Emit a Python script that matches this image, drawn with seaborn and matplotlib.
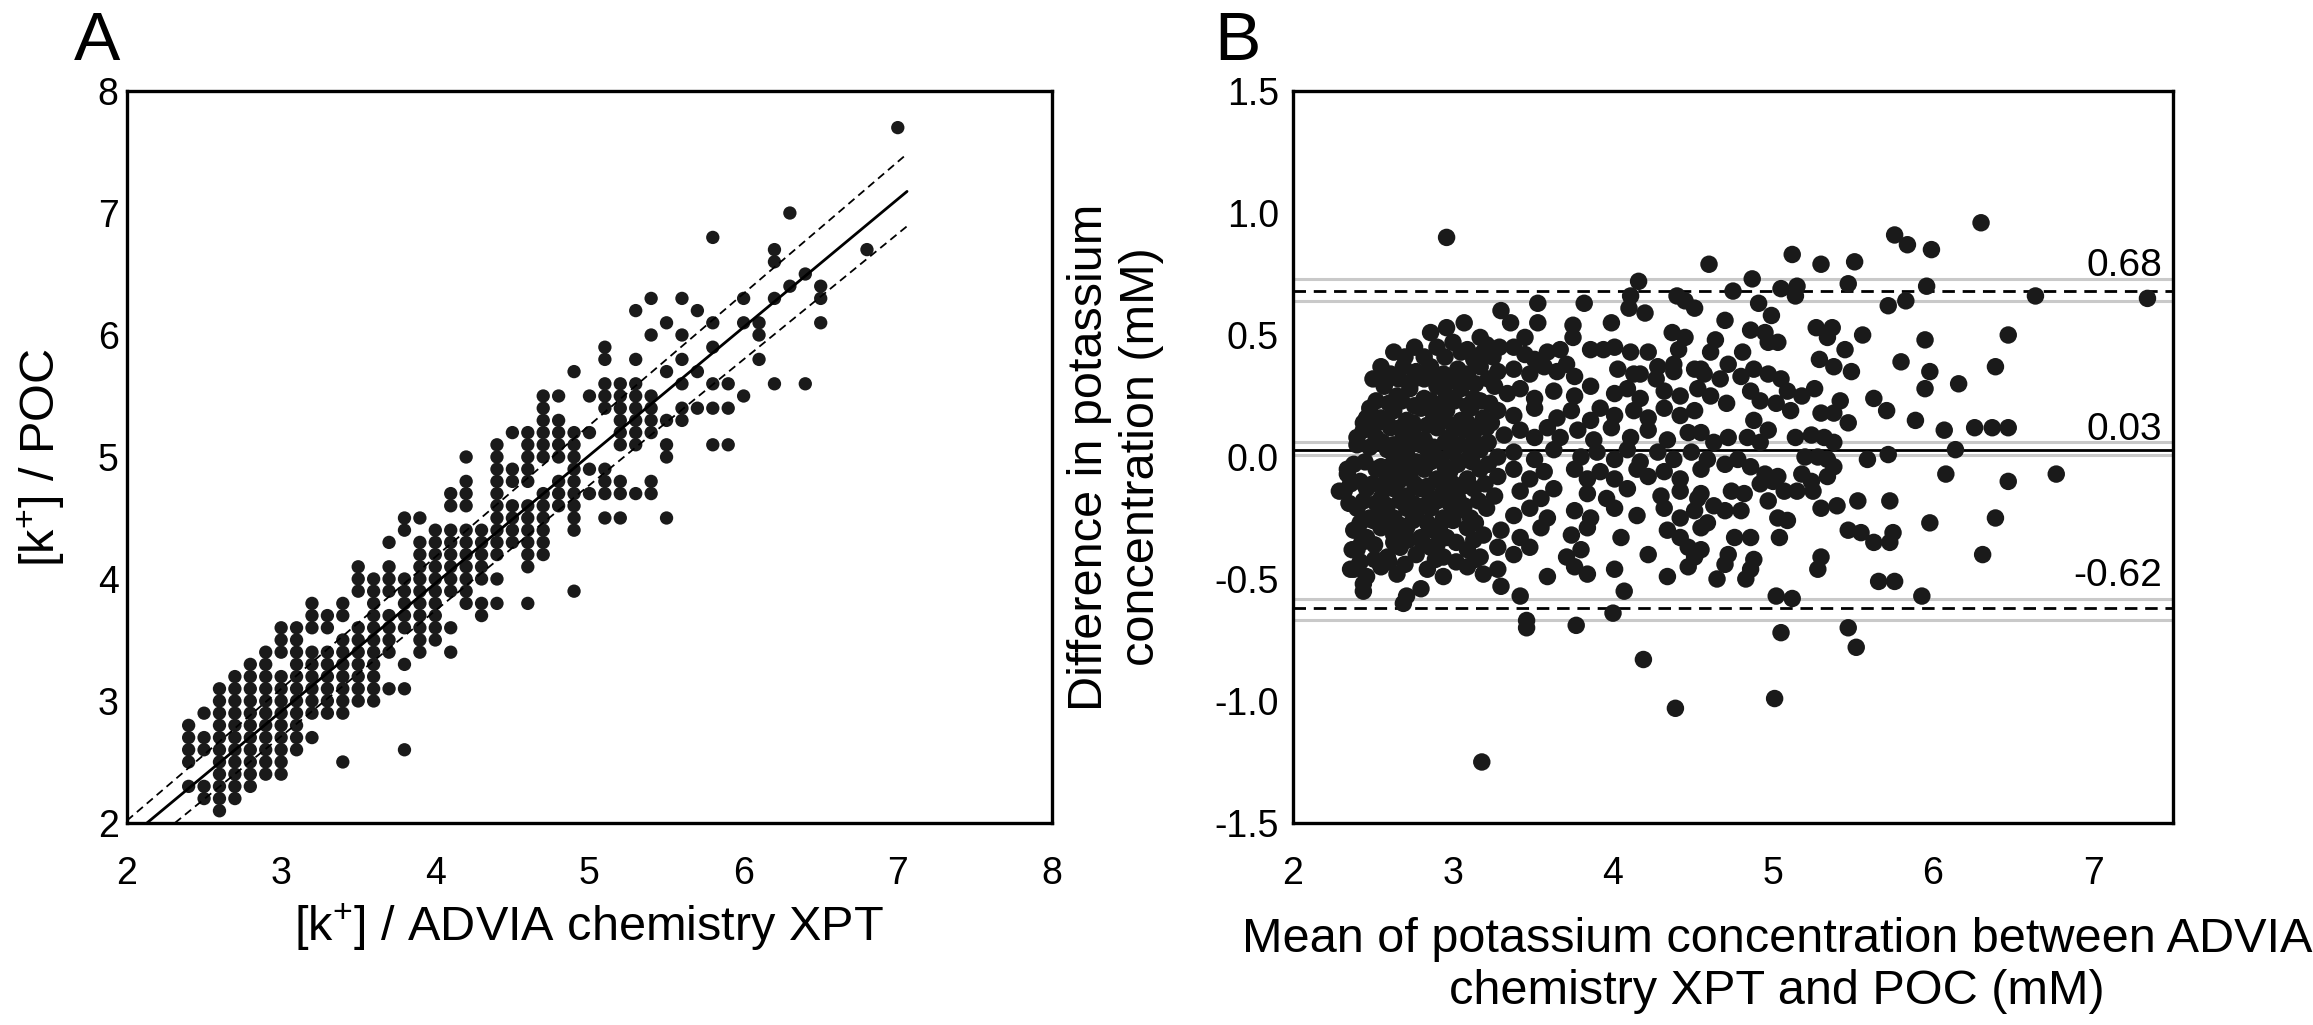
import numpy as np
import pandas as pd
import matplotlib
matplotlib.use("Agg")
import matplotlib.pyplot as plt
import matplotlib.transforms as mtransforms
from matplotlib.ticker import FormatStrFormatter
import seaborn as sns

# ---------------- panel A : POC vs ADVIA (values read on the 0.1 mM grid) ----------------
# ADVIA value -> list of POC values found in that column
A_COLUMNS = {
    2.4: [2.3, 2.5, 2.6, 2.7, 2.8],
    2.5: [2.2, 2.3, 2.6, 2.7, 2.9],
    2.6: [2.1, 2.2, 2.3, 2.4, 2.5, 2.6, 2.7, 2.8, 2.9, 3.0, 3.1],
    2.7: [2.2, 2.3, 2.4, 2.5, 2.6, 2.7, 2.8, 2.9, 3.0, 3.1, 3.2],
    2.8: [2.3, 2.4, 2.5, 2.6, 2.7, 2.8, 2.9, 3.0, 3.1, 3.2, 3.3],
    2.9: [2.4, 2.5, 2.6, 2.7, 2.8, 2.9, 3.0, 3.1, 3.2, 3.3, 3.4],
    3.0: [2.4, 2.5, 2.6, 2.7, 2.8, 2.9, 3.0, 3.1, 3.2, 3.4, 3.5, 3.6],
    3.1: [2.6, 2.7, 2.8, 2.9, 3.0, 3.1, 3.2, 3.3, 3.4, 3.5, 3.6],
    3.2: [2.7, 2.9, 3.0, 3.1, 3.2, 3.3, 3.4, 3.6, 3.7, 3.8],
    3.3: [2.9, 3.0, 3.1, 3.2, 3.3, 3.4, 3.6, 3.7],
    3.4: [2.5, 2.9, 3.0, 3.1, 3.2, 3.3, 3.4, 3.5, 3.7, 3.8],
    3.5: [3.0, 3.1, 3.2, 3.3, 3.4, 3.5, 3.6, 3.9, 4.0, 4.1],
    3.6: [3.0, 3.1, 3.2, 3.3, 3.4, 3.5, 3.6, 3.7, 3.8, 3.9, 4.0],
    3.7: [3.1, 3.4, 3.5, 3.6, 3.7, 3.9, 4.0, 4.1, 4.3],
    3.8: [2.6, 3.1, 3.3, 3.6, 3.7, 3.8, 3.9, 4.0, 4.4, 4.5],
    3.9: [3.4, 3.5, 3.6, 3.7, 3.8, 3.9, 4.0, 4.1, 4.2, 4.3, 4.5],
    4.0: [3.5, 3.6, 3.7, 3.8, 3.9, 4.0, 4.1, 4.2, 4.3, 4.4],
    4.1: [3.4, 3.6, 3.9, 4.0, 4.1, 4.2, 4.3, 4.4, 4.6, 4.7],
    4.2: [3.8, 3.9, 4.0, 4.1, 4.2, 4.3, 4.4, 4.6, 4.7, 4.8, 5.0],
    4.3: [3.7, 3.8, 4.0, 4.1, 4.2, 4.3, 4.4],
    4.4: [3.8, 4.0, 4.2, 4.3, 4.4, 4.5, 4.6, 4.7, 4.8, 4.9, 5.0, 5.1],
    4.5: [4.3, 4.4, 4.5, 4.6, 4.8, 4.9, 5.2],
    4.6: [3.8, 4.1, 4.2, 4.3, 4.4, 4.5, 4.6, 4.8, 4.9, 5.0, 5.1, 5.2],
    4.7: [4.2, 4.3, 4.4, 4.5, 4.6, 4.7, 5.0, 5.1, 5.2, 5.3, 5.4, 5.5],
    4.8: [4.6, 4.7, 4.8, 5.0, 5.1, 5.2, 5.3, 5.5],
    4.9: [3.9, 4.4, 4.5, 4.6, 4.7, 4.8, 4.9, 5.0, 5.1, 5.2, 5.7],
    5.0: [4.7, 4.9, 5.2, 5.5],
    5.1: [4.5, 4.7, 4.8, 4.9, 5.4, 5.5, 5.6, 5.8, 5.9],
    5.2: [4.5, 4.7, 4.8, 5.1, 5.2, 5.3, 5.4, 5.5, 5.6],
    5.3: [4.7, 5.1, 5.2, 5.3, 5.4, 5.5, 5.6, 5.8, 6.2],
    5.4: [4.7, 4.8, 5.2, 5.3, 5.4, 5.5, 6.0, 6.3],
    5.5: [4.5, 5.0, 5.1, 5.3, 5.7, 6.1],
    5.6: [5.3, 5.4, 5.6, 5.8, 6.0, 6.3],
    5.7: [5.4, 5.7, 6.2],
    5.8: [5.1, 5.4, 5.6, 5.9, 6.1, 6.8],
    5.9: [5.1, 5.4, 5.6],
    6.0: [5.5, 6.1, 6.3],
    6.1: [5.8, 6.0, 6.1],
    6.2: [5.6, 6.3, 6.6, 6.7],
    6.3: [6.4, 7.0],
    6.4: [5.6, 6.5],
    6.5: [6.1, 6.3, 6.4],
    6.8: [6.7],
    7.0: [7.7],
}

# regression line and its dashed band (intercept, slope), drawn up to x = 7.06
FIT_LINE = (-0.236, 1.05)
FIT_UPPER = (-0.14, 1.08)
FIT_LOWER = (-0.38, 1.03)
FIT_X_END = 7.06

# ---------------- panel B : Bland-Altman (mean, difference) ----------------
B_POINTS = [
    # upper / sparse points
    (2.96, 0.90), (4.16, 0.72), (4.11, 0.66), (4.10, 0.61), (4.20, 0.59), (4.40, 0.66),
    (4.45, 0.64), (4.51, 0.61), (3.53, 0.63), (3.53, 0.55), (3.82, 0.63), (3.99, 0.55),
    (3.30, 0.60), (3.36, 0.55), (3.45, 0.49), (3.75, 0.54), (3.75, 0.49), (4.37, 0.51),
    (4.45, 0.49), (4.41, 0.44), (4.38, 0.38), (2.86, 0.51), (2.96, 0.53), (3.07, 0.55),
    (3.17, 0.49), (3.21, 0.46), (2.63, 0.43), (2.82, 0.41), (2.90, 0.45), (3.00, 0.47),
    (3.09, 0.44), (3.19, 0.43), (3.29, 0.45), (3.38, 0.45), (3.51, 0.40), (3.59, 0.43),
    (3.67, 0.44), (3.71, 0.38), (3.76, 0.33), (3.86, 0.44), (3.94, 0.44), (4.01, 0.45),
    (4.11, 0.43), (4.22, 0.43), (4.27, 0.32), (4.17, 0.34), (4.55, 0.36),
    # dense left cluster, row by row
    (2.55, 0.37), (2.61, 0.34), (2.69, 0.37), (2.77, 0.35), (2.86, 0.37), (2.94, 0.34),
    (3.03, 0.36), (3.09, 0.34), (3.17, 0.37), (3.28, 0.35), (3.38, 0.36), (3.48, 0.34),
    (3.57, 0.37), (3.65, 0.35), (4.03, 0.36), (4.13, 0.34), (4.28, 0.37), (4.38, 0.35),
    (4.51, 0.36),
    (2.57, 0.29), (2.65, 0.25), (2.73, 0.28), (2.82, 0.24), (2.90, 0.29), (2.96, 0.25),
    (3.05, 0.28), (3.13, 0.24), (3.26, 0.29), (3.34, 0.26), (3.42, 0.28), (3.51, 0.24),
    (3.63, 0.27), (3.76, 0.25), (3.86, 0.29), (4.01, 0.26), (4.09, 0.28), (4.17, 0.24),
    (4.32, 0.27), (4.42, 0.25), (4.53, 0.28),
    (2.48, 0.20), (2.55, 0.16), (2.63, 0.19), (2.71, 0.15), (2.80, 0.20), (2.88, 0.17),
    (2.96, 0.19), (3.05, 0.15), (3.11, 0.20), (3.19, 0.16), (3.28, 0.19), (3.38, 0.17),
    (3.51, 0.20), (3.65, 0.16), (3.74, 0.19), (3.86, 0.15), (3.92, 0.20), (4.01, 0.17),
    (4.13, 0.19), (4.22, 0.16), (4.32, 0.20), (4.42, 0.17), (4.51, 0.19),
    (2.44, 0.11), (2.52, 0.08), (2.61, 0.12), (2.69, 0.09), (2.75, 0.11), (2.82, 0.07),
    (2.90, 0.12), (2.98, 0.08), (3.07, 0.11), (3.13, 0.07), (3.21, 0.12), (3.32, 0.09),
    (3.42, 0.11), (3.51, 0.08), (3.59, 0.12), (3.67, 0.08), (3.78, 0.11), (3.88, 0.07),
    (3.99, 0.12), (4.11, 0.08), (4.22, 0.11), (4.34, 0.07), (4.47, 0.10),
    (2.59, 0.03), (2.65, -0.01), (2.71, 0.02), (2.77, -0.02), (2.84, 0.03), (2.92, -0.01),
    (3.00, 0.02), (3.09, -0.01), (3.17, 0.03), (3.28, 0.00), (3.38, 0.02), (3.51, -0.01),
    (3.63, 0.03), (3.80, 0.00), (3.90, 0.02), (4.01, -0.01), (4.09, 0.03), (4.17, -0.02),
    (4.28, 0.02), (4.38, -0.01), (4.49, 0.02),
    (2.34, -0.07), (2.52, -0.05), (2.59, -0.09), (2.65, -0.05), (2.73, -0.08), (2.82, -0.05),
    (2.90, -0.09), (2.98, -0.06), (3.09, -0.09), (3.17, -0.05), (3.28, -0.08), (3.38, -0.05),
    (3.48, -0.09), (3.57, -0.06), (3.76, -0.05), (3.84, -0.09), (3.92, -0.06), (4.01, -0.09),
    (4.15, -0.05), (4.22, -0.08), (4.32, -0.06), (4.42, -0.09), (4.55, -0.05),
    (2.32, -0.14), (2.46, -0.13), (2.55, -0.17), (2.63, -0.13), (2.71, -0.16), (2.80, -0.13),
    (2.86, -0.17), (2.94, -0.14), (3.03, -0.17), (3.13, -0.13), (3.26, -0.16), (3.42, -0.14),
    (3.55, -0.17), (3.63, -0.13), (3.84, -0.15), (3.96, -0.17), (4.09, -0.13), (4.30, -0.16),
    (4.42, -0.14), (4.53, -0.17),
    (2.40, -0.21), (2.48, -0.25), (2.55, -0.22), (2.63, -0.25), (2.71, -0.21), (2.77, -0.24),
    (2.86, -0.21), (2.94, -0.25), (3.03, -0.22), (3.11, -0.25), (3.21, -0.21), (3.38, -0.24),
    (3.48, -0.21), (3.59, -0.25), (3.76, -0.22), (3.86, -0.25), (4.01, -0.21), (4.15, -0.24),
    (4.32, -0.21), (4.42, -0.25), (4.51, -0.22),
    (2.38, -0.30), (2.46, -0.33), (2.55, -0.29), (2.63, -0.32), (2.71, -0.29), (2.80, -0.33),
    (2.88, -0.30), (2.96, -0.33), (3.09, -0.29), (3.19, -0.32), (3.30, -0.30), (3.42, -0.33),
    (3.55, -0.29), (3.74, -0.32), (3.84, -0.29), (4.05, -0.33), (4.34, -0.30), (4.42, -0.33),
    (4.55, -0.29),
    (2.40, -0.38), (2.59, -0.41), (2.67, -0.37), (2.77, -0.40), (2.86, -0.37), (2.94, -0.41),
    (3.09, -0.38), (3.17, -0.41), (3.28, -0.37), (3.38, -0.40), (3.48, -0.37), (3.71, -0.41),
    (3.80, -0.38), (4.22, -0.40), (4.47, -0.37), (4.51, -0.41),
    (2.38, -0.46), (2.46, -0.49), (2.55, -0.45), (2.65, -0.48), (2.84, -0.46), (2.94, -0.49),
    (3.09, -0.45), (3.19, -0.48), (3.28, -0.46), (3.59, -0.49), (3.76, -0.45), (3.84, -0.48),
    (4.01, -0.46), (4.34, -0.49), (4.47, -0.45),
    (2.44, -0.55), (2.71, -0.57), (2.80, -0.54), (3.30, -0.53), (3.42, -0.57), (4.07, -0.55),
    (2.40, 0.08), (2.46, 0.16), (2.57, 0.33), (2.29, -0.14), (2.34, -0.05), (2.37, -0.38),
    (2.36, -0.46), (2.44, -0.52), (2.69, -0.60),
    # in-between points of the darkest part (x 2.4 - 3.3)
    (2.50, 0.32), (2.58, 0.31), (2.66, 0.32), (2.74, 0.31), (2.82, 0.32), (2.90, 0.33),
    (2.98, 0.31), (3.06, 0.32), (3.14, 0.30), (3.22, 0.32),
    (2.52, 0.23), (2.60, 0.22), (2.68, 0.23), (2.76, 0.21), (2.86, 0.23), (2.93, 0.22),
    (3.01, 0.23), (3.09, 0.21), (3.17, 0.23), (3.23, 0.22),
    (2.44, 0.14), (2.51, 0.13), (2.59, 0.14), (2.67, 0.12), (2.75, 0.14), (2.84, 0.13),
    (2.92, 0.15), (3.00, 0.13), (3.09, 0.14), (3.16, 0.12), (3.24, 0.14),
    (2.40, 0.05), (2.48, 0.04), (2.56, 0.06), (2.63, 0.05), (2.68, 0.04), (2.74, 0.06),
    (2.80, 0.05), (2.88, 0.04), (2.95, 0.06), (3.04, 0.05), (3.12, 0.04), (3.22, 0.06),
    (2.38, -0.03), (2.45, -0.02), (2.55, -0.04), (2.62, -0.03), (2.69, -0.02), (2.75, -0.04),
    (2.80, -0.03), (2.86, -0.02), (2.95, -0.04), (3.03, -0.03), (3.12, -0.02), (3.22, -0.03),
    (2.36, -0.11), (2.42, -0.10), (2.50, -0.11), (2.57, -0.12), (2.66, -0.10), (2.76, -0.11),
    (2.84, -0.12), (2.93, -0.10), (3.00, -0.11), (3.06, -0.12), (3.20, -0.11),
    (2.35, -0.19), (2.44, -0.18), (2.52, -0.19), (2.59, -0.20), (2.67, -0.18), (2.75, -0.19),
    (2.82, -0.20), (2.90, -0.18), (2.98, -0.19), (3.07, -0.20), (3.16, -0.18),
    (2.42, -0.27), (2.50, -0.26), (2.58, -0.27), (2.67, -0.28), (2.75, -0.26), (2.84, -0.27),
    (2.92, -0.28), (3.00, -0.26), (3.14, -0.27),
    (2.43, -0.35), (2.51, -0.36), (2.63, -0.35), (2.72, -0.34), (2.81, -0.35), (2.90, -0.36),
    (3.02, -0.35), (3.13, -0.34),
    (2.42, -0.43), (2.51, -0.42), (2.60, -0.43), (2.70, -0.44), (2.89, -0.42), (3.02, -0.43),
    (3.14, -0.42),
    (2.70, 0.41), (2.76, 0.45), (2.95, 0.41), (3.05, 0.43), (3.13, 0.40), (3.25, 0.41),
    (3.45, 0.42),
    # below the lower limit
    (3.18, -1.25), (4.39, -1.03), (5.01, -0.99), (4.19, -0.83), (3.77, -0.69), (3.46, -0.70),
    (3.46, -0.67), (4.00, -0.64),
    # right half
    (6.30, 0.96), (5.76, 0.91), (5.84, 0.87), (5.99, 0.85), (5.12, 0.83), (5.30, 0.79),
    (5.51, 0.80), (4.60, 0.79), (4.87, 0.73), (4.75, 0.68), (5.05, 0.69), (5.15, 0.70),
    (5.14, 0.66), (5.47, 0.71), (5.96, 0.70), (5.83, 0.64), (5.72, 0.62), (6.64, 0.66),
    (7.34, 0.65), (4.91, 0.63), (4.99, 0.58), (4.70, 0.56), (5.27, 0.53), (5.37, 0.53),
    (5.34, 0.49), (5.56, 0.50), (5.95, 0.48), (6.47, 0.50), (4.86, 0.52), (4.95, 0.51),
    (4.97, 0.47), (5.03, 0.47), (4.64, 0.48), (4.61, 0.43), (4.81, 0.43), (4.72, 0.38),
    (5.29, 0.40), (5.38, 0.37), (5.45, 0.44), (5.49, 0.35), (5.80, 0.39), (5.98, 0.35),
    (5.95, 0.28), (6.16, 0.30), (6.39, 0.37), (4.57, 0.34), (4.67, 0.32), (4.80, 0.33),
    (4.88, 0.36), (4.97, 0.34), (5.05, 0.32), (5.09, 0.27), (4.86, 0.27), (4.92, 0.23),
    (4.71, 0.22), (4.61, 0.25), (5.02, 0.22), (5.11, 0.19), (5.18, 0.25), (5.26, 0.28),
    (5.42, 0.23), (5.38, 0.18), (5.30, 0.18), (5.47, 0.14), (5.63, 0.24), (5.71, 0.19),
    (5.89, 0.15), (6.07, 0.11), (6.26, 0.12), (6.37, 0.12), (6.47, 0.12), (6.14, 0.03),
    (5.59, -0.01), (5.72, 0.01), (4.88, 0.15), (4.97, 0.11), (4.84, 0.08), (4.92, 0.06),
    (4.55, 0.10), (4.63, 0.06), (4.72, 0.08), (5.14, 0.08), (5.24, 0.09), (5.32, 0.08),
    (5.38, 0.06), (4.59, -0.01), (4.70, -0.03), (4.78, -0.01), (4.86, -0.04), (4.95, -0.07),
    (5.03, -0.08), (5.20, 0.00), (5.28, 0.00), (5.34, -0.01), (5.18, -0.07), (5.24, -0.10),
    (5.34, -0.08), (5.38, -0.04), (6.08, -0.07), (6.47, -0.10), (6.77, -0.07), (4.55, -0.15),
    (4.63, -0.20), (4.74, -0.14), (4.82, -0.15), (4.92, -0.11), (5.00, -0.10), (5.07, -0.14),
    (4.70, -0.22), (4.80, -0.22), (4.97, -0.18), (5.03, -0.25), (5.09, -0.26), (5.15, -0.14),
    (5.25, -0.14), (5.30, -0.21), (5.40, -0.20), (5.53, -0.18), (5.73, -0.18), (4.59, -0.27),
    (4.76, -0.33), (4.86, -0.33), (5.04, -0.33), (5.47, -0.30), (5.55, -0.31), (5.63, -0.35),
    (5.75, -0.31), (5.73, -0.35), (5.98, -0.27), (6.39, -0.25), (6.31, -0.40), (4.55, -0.38),
    (4.72, -0.40), (4.70, -0.44), (4.88, -0.42), (4.86, -0.46), (4.83, -0.50), (4.65, -0.50),
    (5.30, -0.41), (5.28, -0.46), (5.66, -0.51), (5.76, -0.51), (5.93, -0.57), (5.02, -0.57),
    (5.12, -0.58), (5.05, -0.72), (5.47, -0.70), (5.52, -0.78),
]

# Bland-Altman statistics printed on the chart, with their confidence bands
LIMITS = {"upper": 0.68, "mean": 0.03, "lower": -0.62}
LIMIT_CI = {"upper": (0.64, 0.73), "mean": (0.01, 0.06), "lower": (-0.67, -0.58)}
LIMIT_TEXT_Y = {"upper": 0.74, "mean": 0.07, "lower": -0.53}

DOT = "#1a1a1a"
GREY = "#c9c9c9"

a_advia = [x for x, ys in A_COLUMNS.items() for _ in ys]
a_poc = [y for ys in A_COLUMNS.values() for y in ys]
df_a = pd.DataFrame({"advia": a_advia, "poc": a_poc})
df_b = pd.DataFrame(B_POINTS, columns=["mean", "diff"])

sns.set_theme(style="white", rc={"text.color": "black", "axes.labelcolor": "black",
                                 "xtick.color": "black", "ytick.color": "black"})
plt.rcParams["font.family"] = ["Liberation Sans", "DejaVu Sans"]
plt.rcParams["mathtext.fontset"] = "custom"
plt.rcParams["mathtext.rm"] = "Liberation Sans"
plt.rcParams["mathtext.default"] = "regular"
plt.rcParams["axes.unicode_minus"] = False

fig = plt.figure(figsize=(23.13, 10.25), dpi=100)
ax_a = fig.add_axes([0.0549, 0.1971, 0.3999, 0.7141])
ax_b = fig.add_axes([0.5590, 0.1971, 0.3805, 0.7141])

# ---- panel A
sns.scatterplot(data=df_a, x="advia", y="poc", ax=ax_a, s=92, color=DOT,
                edgecolor="none", linewidth=0, zorder=3)

def draw_fit(ax, coef, **kw):
    b, m = coef
    x0 = max(2.0, (2.0 - b) / m)
    xs = np.array([x0, FIT_X_END])
    ax.plot(xs, b + m * xs, zorder=4, **kw)

draw_fit(ax_a, FIT_LINE, color="black", lw=2.0)
draw_fit(ax_a, FIT_UPPER, color="black", lw=1.3, dashes=(4.4, 2.8))
draw_fit(ax_a, FIT_LOWER, color="black", lw=1.3, dashes=(4.4, 2.8))

ax_a.set_xlim(2, 8)
ax_a.set_ylim(2, 8)
ax_a.set_xticks(range(2, 9))
ax_a.set_yticks(range(2, 9))
ax_a.tick_params(axis="x", length=0, labelsize=27, pad=24)
ax_a.tick_params(axis="y", length=0, labelsize=27, pad=6)
ax_a.set_xlabel("[k$^{+}$] / ADVIA chemistry XPT", fontsize=35)
ax_a.set_ylabel("[k$^{+}$] / POC", fontsize=35)
ax_a.xaxis.set_label_coords(0.5, -0.107)
ax_a.yaxis.set_label_coords(-0.065, 0.5)

# ---- panel B
for key in LIMITS:
    for v in LIMIT_CI[key]:
        ax_b.axhline(v, color=GREY, lw=2.2, zorder=1)
ax_b.axhline(LIMITS["mean"], color="black", lw=2.0, zorder=2)
ax_b.axhline(LIMITS["upper"], color="black", lw=2.0, dashes=(4.5, 2.8), zorder=2)
ax_b.axhline(LIMITS["lower"], color="black", lw=2.0, dashes=(4.5, 2.8), zorder=2)

sns.scatterplot(data=df_b, x="mean", y="diff", ax=ax_b, s=158, color=DOT,
                edgecolor="none", linewidth=0, zorder=3)

trans = mtransforms.blended_transform_factory(ax_b.transAxes, ax_b.transData)
for key, v in LIMITS.items():
    ax_b.text(0.9875, LIMIT_TEXT_Y[key], f"{v:.2f}", transform=trans,
              ha="right", va="baseline", fontsize=28, zorder=5)

ax_b.set_xlim(2, 7.5)
ax_b.set_ylim(-1.5, 1.5)
ax_b.set_xticks(range(2, 8))
ax_b.set_yticks(np.arange(-1.5, 1.51, 0.5))
ax_b.yaxis.set_major_formatter(FormatStrFormatter("%.1f"))
ax_b.tick_params(axis="x", length=0, labelsize=27, pad=24)
ax_b.tick_params(axis="y", length=0, labelsize=27, pad=10)
ax_b.set_xlabel("Mean of potassium concentration between ADVIA\nchemistry XPT and POC (mM)",
                fontsize=35, linespacing=1.2)
ax_b.set_ylabel("Difference in potassium\nconcentration (mM)", fontsize=35, linespacing=1.2)
ax_b.xaxis.set_label_coords(0.55, -0.128)
ax_b.yaxis.set_label_coords(-0.147, 0.5)

for ax in (ax_a, ax_b):
    ax.grid(False)
    for sp in ax.spines.values():
        sp.set_visible(True)
        sp.set_color("black")
        sp.set_linewidth(2.4)

fig.text(0.032, 1 - 60 / 1025, "A", fontsize=50, ha="left", va="baseline")
fig.text(0.525, 1 - 60 / 1025, "B", fontsize=50, ha="left", va="baseline")

fig.savefig("out.png", dpi=100)
